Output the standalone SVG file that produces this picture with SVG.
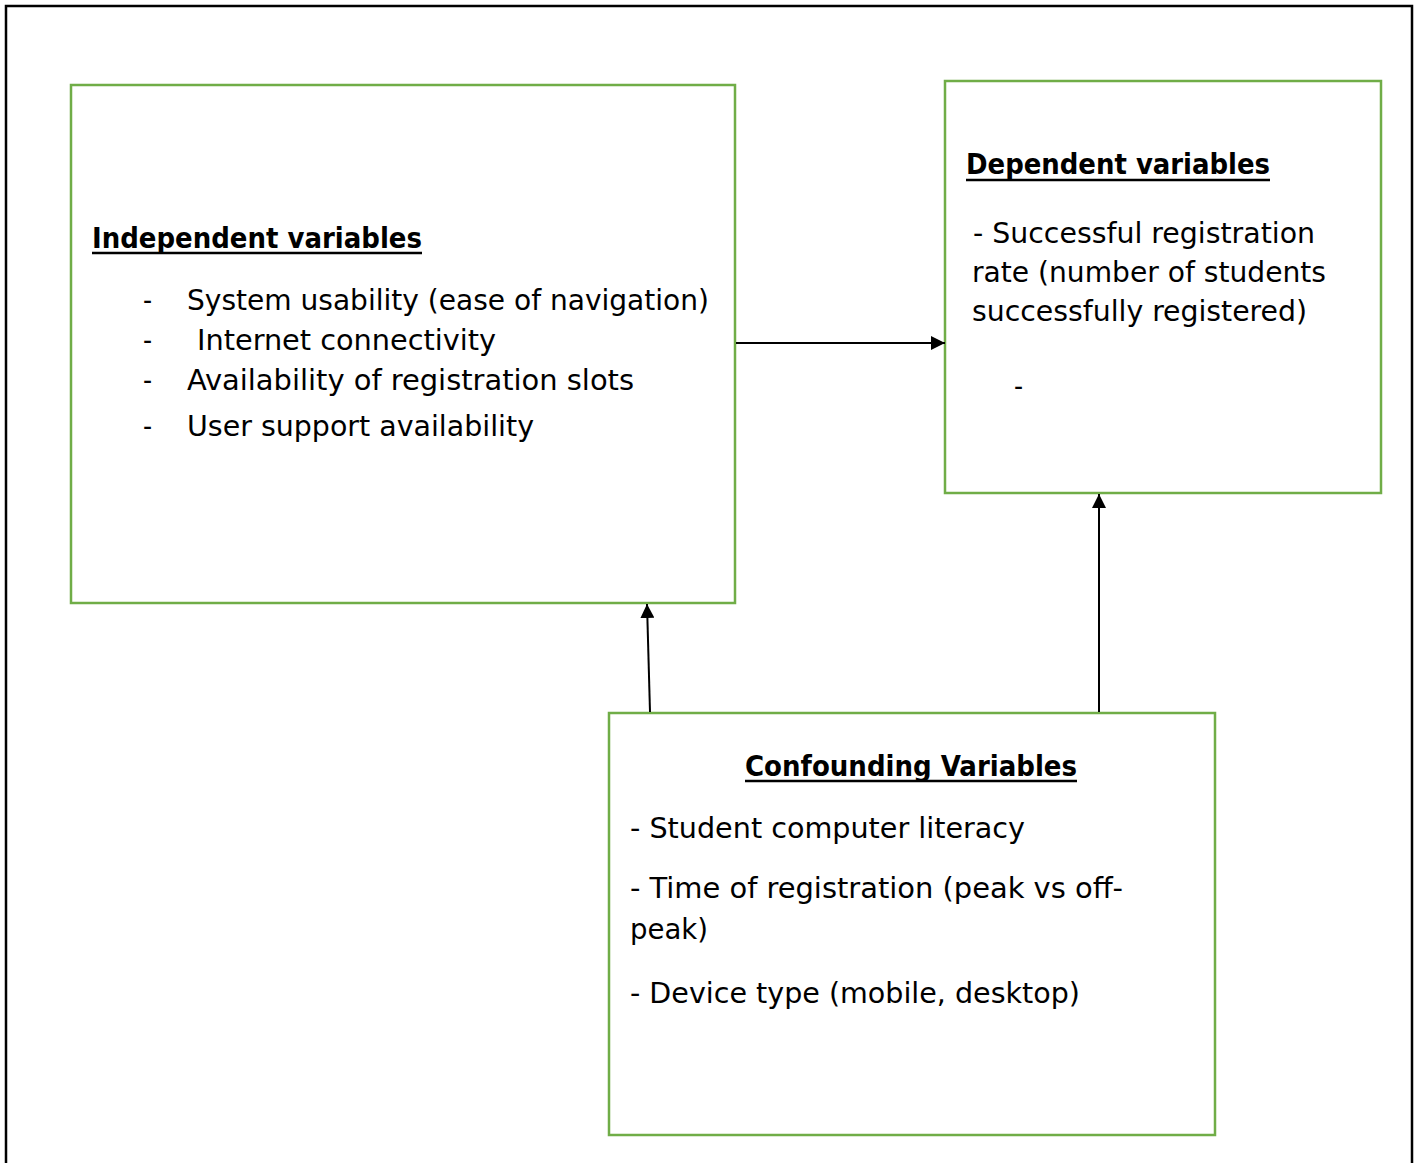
<svg xmlns="http://www.w3.org/2000/svg" width="1419" height="1163" viewBox="0 0 1419 1163">
<defs>
<style>
.box{fill:#fff;stroke:#70AD47;stroke-width:2.5}
.t{font-family:"DejaVu Sans Condensed","DejaVu Sans",sans-serif;font-size:28px;fill:#000}
.h{font-weight:bold}
.ul{stroke:#000;stroke-width:2.5}
.con{stroke:#000;stroke-width:2;fill:none}
</style>
<marker id="ah" viewBox="0 0 10 10" refX="10" refY="5" markerWidth="7" markerHeight="7" markerUnits="userSpaceOnUse" orient="auto">
<path d="M0,0 L10,5 L0,10 z" fill="#000"/>
</marker>
<marker id="ah2" viewBox="0 0 10 10" refX="10" refY="5" markerWidth="14" markerHeight="14" markerUnits="userSpaceOnUse" orient="auto">
<path d="M0,0 L10,5 L0,10 z" fill="#000"/>
</marker>
</defs>
<rect x="0" y="0" width="1419" height="1163" fill="#fff"/>
<rect x="6" y="6" width="1406" height="1170" fill="none" stroke="#000" stroke-width="2.5"/>

<g id="independent">
<rect class="box" x="71" y="85" width="664" height="518"/>
<text class="t h" x="92" y="248" textLength="330" lengthAdjust="spacingAndGlyphs">Independent variables</text>
<line class="ul" x1="92" y1="253" x2="422" y2="253"/>
<text class="t" x="143" y="310">-</text>
<text class="t" x="187" y="310" textLength="522" lengthAdjust="spacingAndGlyphs">System usability (ease of navigation)</text>
<text class="t" x="143" y="350">-</text>
<text class="t" x="197" y="350" textLength="299" lengthAdjust="spacingAndGlyphs">Internet connectivity</text>
<text class="t" x="143" y="390">-</text>
<text class="t" x="187" y="390" textLength="447" lengthAdjust="spacingAndGlyphs">Availability of registration slots</text>
<text class="t" x="143" y="436">-</text>
<text class="t" x="187" y="436" textLength="347" lengthAdjust="spacingAndGlyphs">User support availability</text>
</g>

<g id="dependent">
<rect class="box" x="945" y="81" width="436" height="412"/>
<text class="t h" x="966" y="174" textLength="304" lengthAdjust="spacingAndGlyphs">Dependent variables</text>
<line class="ul" x1="966" y1="180" x2="1270" y2="180"/>
<text class="t" x="973" y="243" textLength="342" lengthAdjust="spacingAndGlyphs">- Successful registration</text>
<text class="t" x="972" y="282" textLength="354" lengthAdjust="spacingAndGlyphs">rate (number of students</text>
<text class="t" x="972" y="321" textLength="335" lengthAdjust="spacingAndGlyphs">successfully registered)</text>
<text class="t" x="1014" y="396">-</text>
</g>

<g id="confounding">
<rect class="box" x="609" y="713" width="606" height="422"/>
<text class="t h" x="745" y="776" textLength="332" lengthAdjust="spacingAndGlyphs">Confounding Variables</text>
<line class="ul" x1="745" y1="781" x2="1077" y2="781"/>
<text class="t" x="630" y="838" textLength="395" lengthAdjust="spacingAndGlyphs">- Student computer literacy</text>
<text class="t" x="630" y="898" textLength="493" lengthAdjust="spacingAndGlyphs">- Time of registration (peak vs off-</text>
<text class="t" x="630" y="939" textLength="78" lengthAdjust="spacingAndGlyphs">peak)</text>
<text class="t" x="630" y="1003" textLength="450" lengthAdjust="spacingAndGlyphs">- Device type (mobile, desktop)</text>
</g>

<g id="connectors">
<line class="con" x1="736" y1="343" x2="945" y2="343" marker-end="url(#ah2)"/>
<line class="con" x1="650" y1="712" x2="647" y2="604" marker-end="url(#ah2)"/>
<line class="con" x1="1099" y1="712" x2="1099" y2="494" marker-end="url(#ah2)"/>
</g>
</svg>
